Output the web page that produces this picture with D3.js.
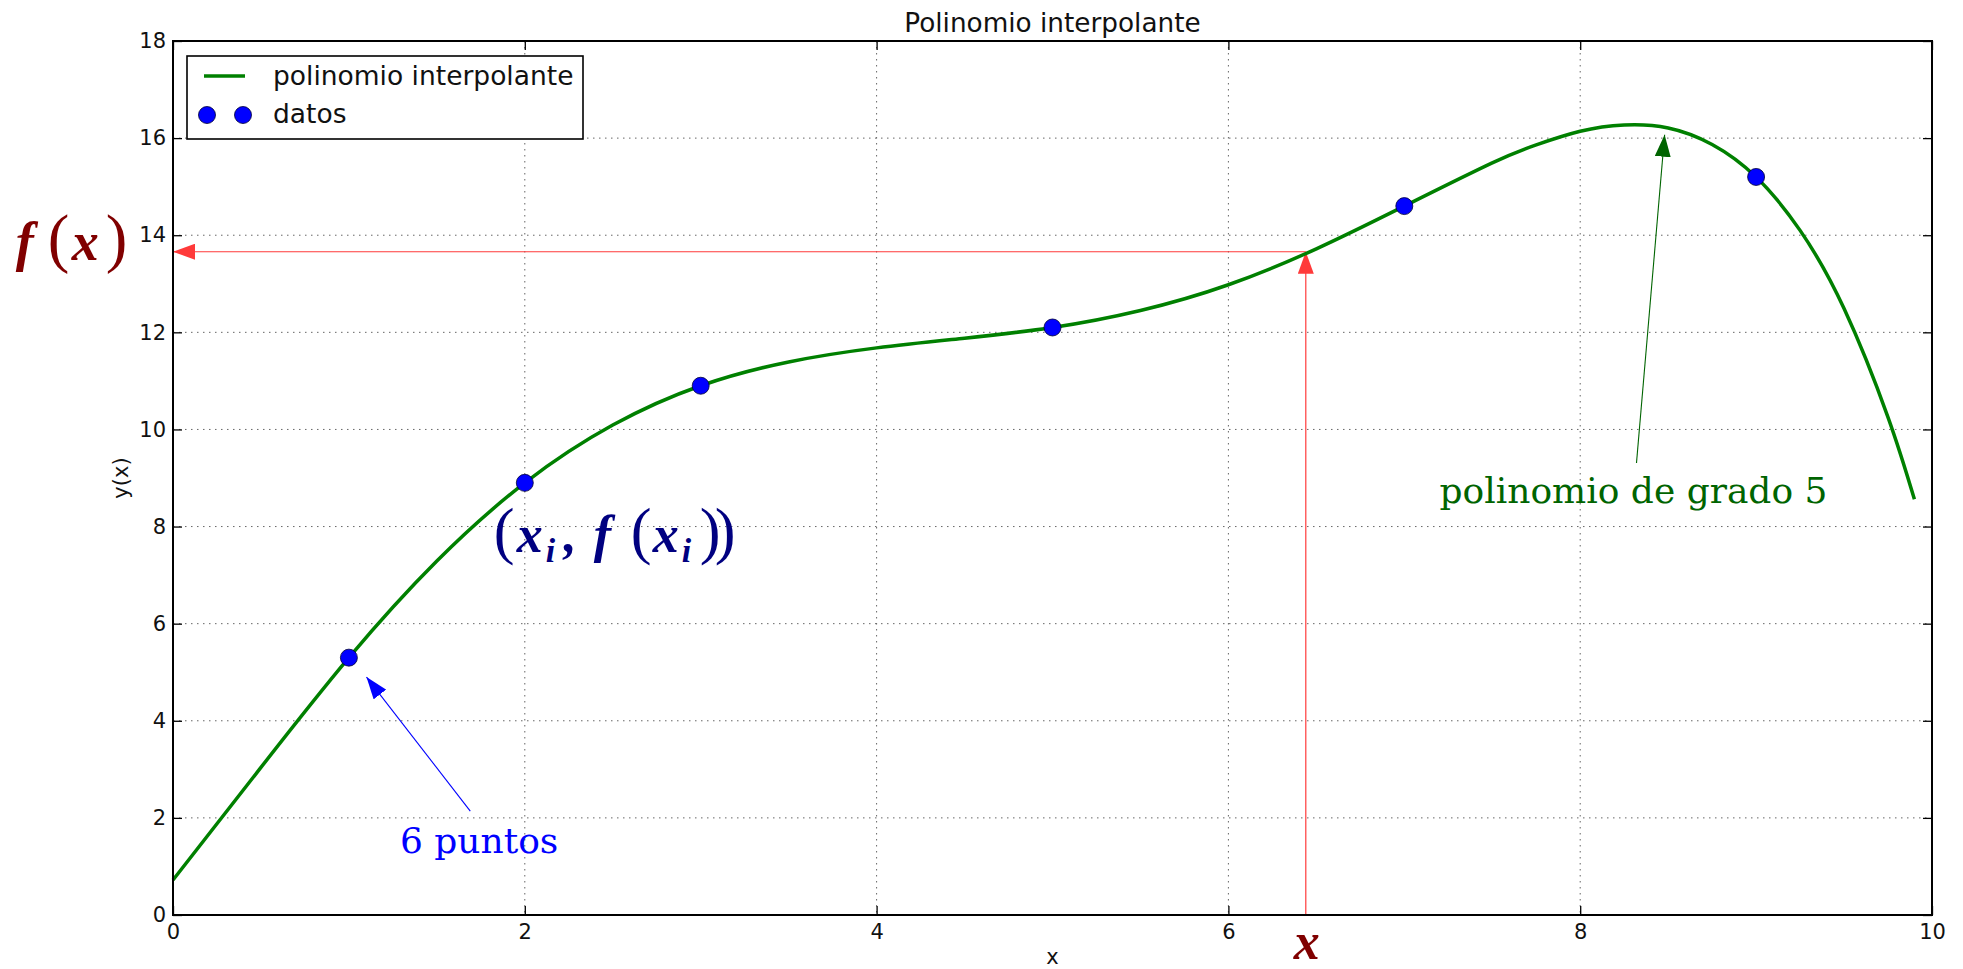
<!DOCTYPE html>
<html>
<head>
<meta charset="utf-8">
<script src="https://cdn.jsdelivr.net/npm/d3@7"></script>
<style>
    body { margin: 0; background: #fff; }
</style>
</head>
<body>
<script>

// curva (polinomio de grado 5)
var curveX = [0, 0.5, 1, 1.5, 2, 2.5, 3, 3.5, 4, 4.5, 5, 5.5, 6, 6.5, 7, 7.5, 7.75, 8, 8.25, 8.5, 8.75, 9, 9.25, 9.5, 9.75, 9.9];
var curveY = [0.72, 3.04, 5.3, 7.29, 8.9, 10.09, 10.9, 11.39, 11.68, 11.88, 12.1, 12.45, 12.98, 13.72, 14.6, 15.49, 15.86, 16.14, 16.27, 16.21, 15.87, 15.2, 14.10, 12.49, 10.25, 8.56];

// datos
var datosX = [1, 2, 3, 5, 7, 9];
var datosY = [5.3, 8.9, 10.9, 12.1, 14.6, 15.2];

var xTicks = [0, 2, 4, 6, 8, 10];
var yTicks = [0, 2, 4, 6, 8, 10, 12, 14, 16, 18];
var seriesNames = ["polinomio interpolante", "datos"];

// punto evaluado x -> f(x)
var evalPoint = [6.44, 13.66];
// flechas: [cola, punta]
var greenArrow = [[8.32, 9.31], [8.48, 16.07]];
var blueArrow = [[1.69, 2.14], [1.10, 4.90]];


var margin = {top: 41, right: 31, bottom: 54, left: 173};
var viewWidth = 1963 - margin.left - margin.right;
var viewHeight = 969 - margin.top - margin.bottom;

var sans = "'DejaVu Sans', sans-serif";
var serif = "'DejaVu Serif', serif";
var mathFont = "'Liberation Serif', serif";

var svg = d3.select("body").append("svg")
    .attr("width", 1963)
    .attr("height", 969);

var defs = svg.append("defs");

function arrowHead(id, color) {
    defs.append("marker")
        .attr("id", id)
        .attr("markerUnits", "userSpaceOnUse")
        .attr("markerWidth", 23)
        .attr("markerHeight", 16)
        .attr("refX", 22)
        .attr("refY", 8)
        .attr("orient", "auto")
        .append("path")
        .attr("d", "M0,0 L22,8 L0,16 z")
        .attr("fill", color);
}
arrowHead("headRed", "#ff3a3a");
arrowHead("headGreen", "#006400");
arrowHead("headBlue", "#0000ff");

var g = svg.append("g")
    .attr("transform", "translate(" + margin.left + "," + margin.top + ")");

var x = d3.scaleLinear().domain([0, 10]).range([0, viewWidth]);
var y = d3.scaleLinear().domain([0, 18]).range([viewHeight, 0]);

// grid
g.append("g").selectAll("line")
    .data(xTicks.slice(1, -1))
    .enter().append("line")
    .attr("x1", function(d) { return x(d); })
    .attr("x2", function(d) { return x(d); })
    .attr("y1", 0)
    .attr("y2", viewHeight)
    .attr("stroke", "#666")
    .attr("stroke-width", 1)
    .attr("stroke-dasharray", "1.5,4.5");

g.append("g").selectAll("line")
    .data(yTicks.slice(1, -1))
    .enter().append("line")
    .attr("x1", 0)
    .attr("x2", viewWidth)
    .attr("y1", function(d) { return y(d); })
    .attr("y2", function(d) { return y(d); })
    .attr("stroke", "#666")
    .attr("stroke-width", 1)
    .attr("stroke-dasharray", "1.5,4.5");

// axes, ticks inward on all four sides
function styleAxis(sel) {
    sel.select(".domain").remove();
    sel.selectAll(".tick line").attr("stroke", "#000").attr("stroke-width", 1.3);
    sel.selectAll(".tick text")
        .attr("fill", "#111")
        .style("font-family", sans)
        .style("font-size", "21px");
}

g.append("g")
    .attr("transform", "translate(0," + viewHeight + ")")
    .call(d3.axisBottom(x).tickValues(xTicks).tickSize(-9).tickPadding(9).tickFormat(d3.format("d")))
    .call(styleAxis);

g.append("g")
    .call(d3.axisLeft(y).tickValues(yTicks).tickSize(-9).tickPadding(7).tickFormat(d3.format("d")))
    .call(styleAxis);

g.append("g")
    .call(d3.axisTop(x).tickValues(xTicks).tickSize(-9).tickFormat(""))
    .call(styleAxis);

g.append("g")
    .attr("transform", "translate(" + viewWidth + ",0)")
    .call(d3.axisRight(y).tickValues(yTicks).tickSize(-9).tickFormat(""))
    .call(styleAxis);

// red guides x -> f(x)
g.append("line")
    .attr("x1", x(evalPoint[0])).attr("y1", y(0))
    .attr("x2", x(evalPoint[0])).attr("y2", y(evalPoint[1]))
    .attr("stroke", "#ff3a3a").attr("stroke-width", 1.2)
    .attr("marker-end", "url(#headRed)");

g.append("line")
    .attr("x1", x(evalPoint[0])).attr("y1", y(evalPoint[1]))
    .attr("x2", x(0)).attr("y2", y(evalPoint[1]))
    .attr("stroke", "#ff3a3a").attr("stroke-width", 1.2)
    .attr("marker-end", "url(#headRed)");

// curve
var line = d3.line()
    .x(function(d) { return x(d[0]); })
    .y(function(d) { return y(d[1]); })
    .curve(d3.curveNatural);

g.append("path")
    .datum(d3.zip(curveX, curveY))
    .attr("d", line)
    .attr("fill", "none")
    .attr("stroke", "#008000")
    .attr("stroke-width", 3.5);

g.append("g").selectAll("circle")
    .data(d3.zip(datosX, datosY))
    .enter().append("circle")
    .attr("cx", function(d) { return x(d[0]); })
    .attr("cy", function(d) { return y(d[1]); })
    .attr("r", 8.5)
    .attr("fill", "#0000ff")
    .attr("stroke", "#000033")
    .attr("stroke-width", 0.8);

// green and blue arrows
[[greenArrow, "#006400", "headGreen"], [blueArrow, "#0000ff", "headBlue"]].forEach(function(a) {
    g.append("line")
        .attr("x1", x(a[0][0][0])).attr("y1", y(a[0][0][1]))
        .attr("x2", x(a[0][1][0])).attr("y2", y(a[0][1][1]))
        .attr("stroke", a[1]).attr("stroke-width", 1.1)
        .attr("marker-end", "url(#" + a[2] + ")");
});

// frame
g.append("rect")
    .attr("width", viewWidth)
    .attr("height", viewHeight)
    .attr("fill", "none")
    .attr("stroke", "#000")
    .attr("stroke-width", 2);

// legend
var legend = g.append("g").attr("transform", "translate(14,15)");
legend.append("rect")
    .attr("width", 396).attr("height", 83)
    .attr("fill", "#fff").attr("stroke", "#000").attr("stroke-width", 1.6);
legend.append("line")
    .attr("x1", 17).attr("x2", 58).attr("y1", 20).attr("y2", 20)
    .attr("stroke", "#008000").attr("stroke-width", 3.5);
legend.selectAll("circle")
    .data([20, 56])
    .enter().append("circle")
    .attr("cx", function(d) { return d; })
    .attr("cy", 59)
    .attr("r", 8.5)
    .attr("fill", "#0000ff").attr("stroke", "#000033").attr("stroke-width", 0.8);
legend.selectAll("text")
    .data(seriesNames)
    .enter().append("text")
    .attr("x", 86)
    .attr("y", function(d, i) { return 29 + i * 38; })
    .style("font-family", sans)
    .style("font-size", "26.5px")
    .attr("fill", "#111")
    .text(function(d) { return d; });

// titles
g.append("text")
    .attr("x", viewWidth / 2).attr("y", -9)
    .attr("text-anchor", "middle")
    .style("font-family", sans).style("font-size", "26.3px")
    .attr("fill", "#111")
    .text("Polinomio interpolante");

g.append("text")
    .attr("x", viewWidth / 2).attr("y", viewHeight + 49)
    .attr("text-anchor", "middle")
    .style("font-family", sans).style("font-size", "21px")
    .attr("fill", "#111")
    .text("x");

g.append("text")
    .attr("transform", "translate(-52," + viewHeight / 2 + ") rotate(-90)")
    .attr("text-anchor", "middle")
    .attr("dy", "0.35em")
    .style("font-family", sans).style("font-size", "21px")
    .attr("fill", "#111")
    .text("y(x)");

// annotation texts
g.append("text")
    .attr("x", x(1.29)).attr("y", y(1.28))
    .style("font-family", serif).style("font-size", "36px")
    .attr("fill", "#0000ff")
    .text("6 puntos");

g.append("text")
    .attr("x", x(7.2)).attr("y", y(8.49))
    .style("font-family", serif).style("font-size", "36px")
    .attr("fill", "#006400")
    .text("polinomio de grado 5");

// math labels built glyph by glyph: [text, dx, kind]
function mathLabel(x0, y0, color, size, parts) {
    var t = g.append("text")
        .attr("x", x0).attr("y", y0)
        .attr("fill", color)
        .style("font-family", mathFont);
    parts.forEach(function(p) {
        var s = t.append("tspan")
            .attr("x", x0 + p[1])
            .attr("y", y0 + (p[2] === "sub" ? 10 : 0))
            .text(p[0]);
        if (p[2] === "paren") {
            s.style("font-size", (size * 1.2) + "px");
        } else if (p[2] === "sub") {
            s.style("font-size", (size * 0.65) + "px").style("font-weight", "bold").style("font-style", "italic");
        } else {
            s.style("font-size", size + "px").style("font-weight", "bold").style("font-style", "italic");
        }
    });
}

mathLabel(x(-0.94), y(13.49), "#800000", 54, [
    ["f", 8, "bi"], ["(", 40, "paren"], ["x", 64, "bi"], [")", 98, "paren"]
]);

mathLabel(x(evalPoint[0]) - 12, y(-0.9), "#800000", 52, [
    ["x", 0, "bi"]
]);

mathLabel(x(1.84), y(7.48), "#000080", 52, [
    ["(", -3, "paren"], ["x", 20, "bi"], ["i", 49, "sub"], [",", 67, "bi"],
    ["f", 97, "bi"], ["(", 134, "paren"], ["x", 156, "bi"], ["i", 185, "sub"],
    [")", 203, "paren"], [")", 218, "paren"]
]);

</script>
</body>
</html>
